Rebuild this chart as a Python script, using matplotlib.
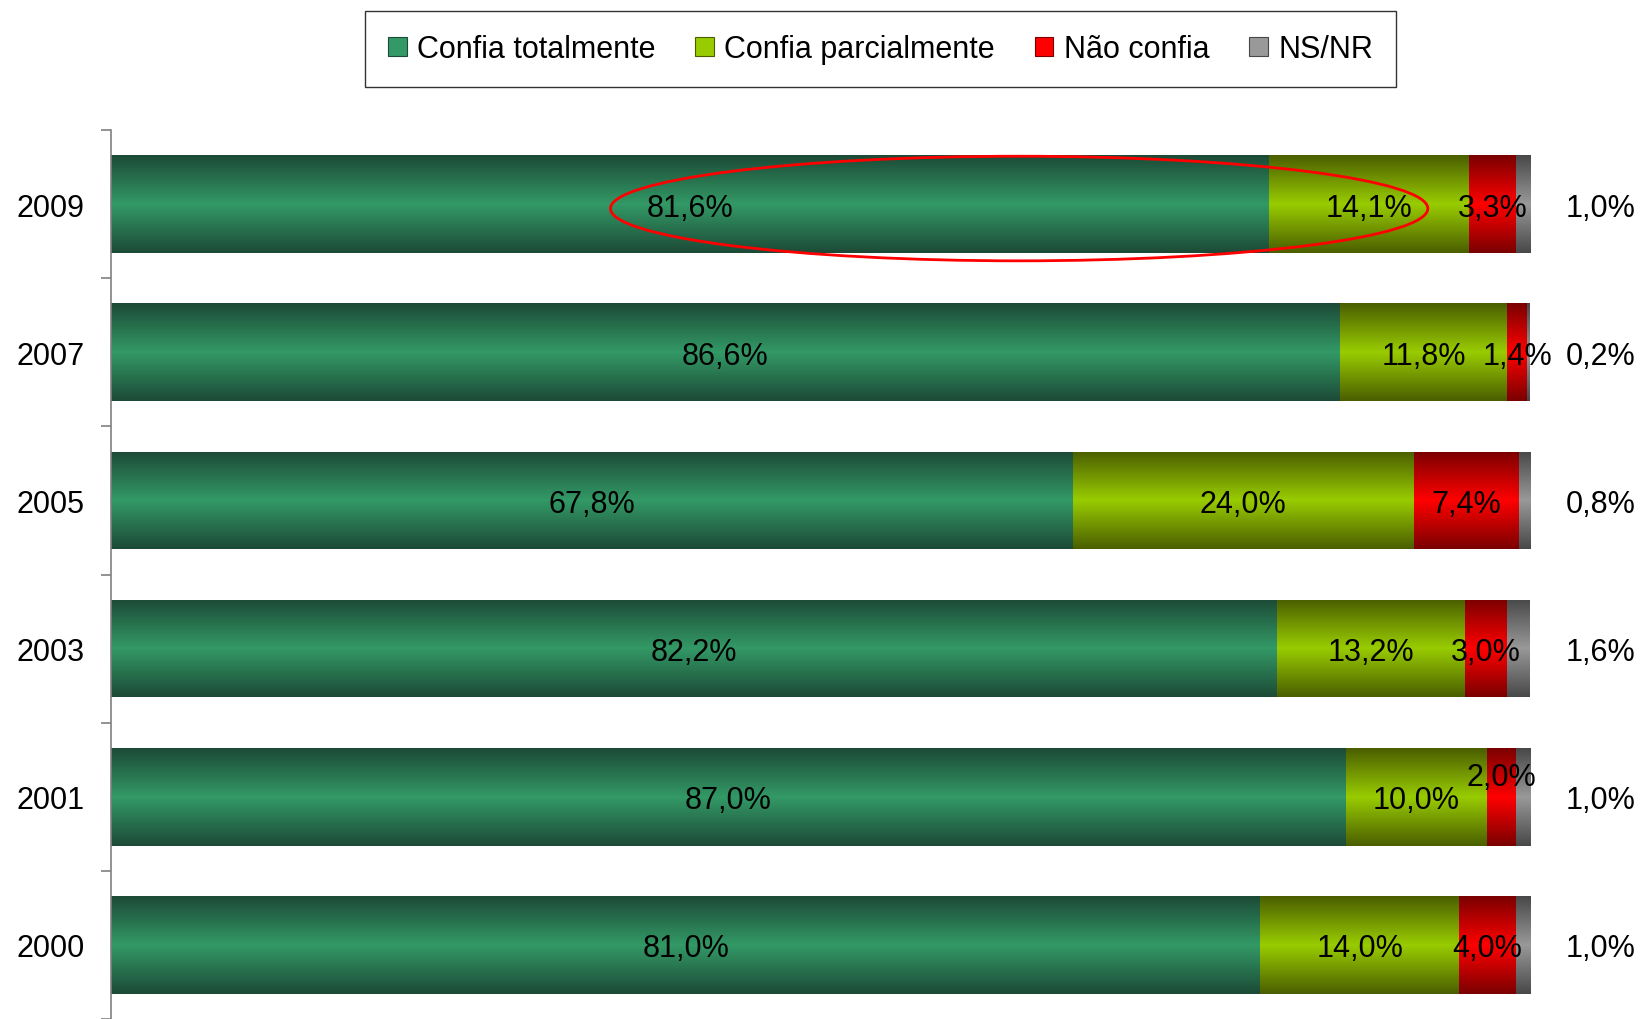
import matplotlib.pyplot as plt
import numpy as np
from matplotlib.colors import LinearSegmentedColormap
from matplotlib.patches import Ellipse, Patch

plt.rcParams['font.family'] = ['Liberation Sans', 'DejaVu Sans']

# Data
years = ["2009", "2007", "2005", "2003", "2001", "2000"]
series_names = ["Confia totalmente", "Confia parcialmente", "Não confia", "NS/NR"]
confia_total = [81.6, 86.6, 67.8, 82.2, 87.0, 81.0]
confia_parcial = [14.1, 11.8, 24.0, 13.2, 10.0, 14.0]
nao_confia = [3.3, 1.4, 7.4, 3.0, 2.0, 4.0]
ns_nr = [1.0, 0.2, 0.8, 1.6, 1.0, 1.0]

# (edge colour, centre colour) for the Excel-like gradient
series_colors = [
    ("#1c4a36", "#339966"),
    ("#4a5e00", "#99cc00"),
    ("#7a0000", "#ff0000"),
    ("#484848", "#999999"),
]

fs = 22
bar_h = 0.66


def fmt(v):
    return f"{v:.1f}".replace('.', ',') + '%'


fig = plt.figure(figsize=(16.43, 10.2), dpi=100)
fig.set_facecolor('white')
ax = fig.add_axes([111 / 1643, 0, (1530 - 111) / 1643, 1 - 131 / 1020])

y = np.arange(len(years))
left = np.zeros(len(years))
grad = 1 - np.abs(np.linspace(-1, 1, 256))
grad = grad.reshape(-1, 1)

all_series = [confia_total, confia_parcial, nao_confia, ns_nr]
for k, (vals, (dark, light)) in enumerate(zip(all_series, series_colors)):
    vals = np.array(vals)
    bars = ax.barh(y, vals, left=left, height=bar_h, color='none', edgecolor='none')
    cmap = LinearSegmentedColormap.from_list(f"g{k}", [dark, light])
    for rect in bars:
        x0, y0 = rect.get_x(), rect.get_y()
        w, h = rect.get_width(), rect.get_height()
        im = ax.imshow(grad, cmap=cmap, aspect='auto', vmin=0, vmax=1,
                       extent=(x0, x0 + w, y0, y0 + h), interpolation='bilinear')
        im.set_clip_path(rect)

    for i, v in enumerate(vals):
        if k == 3:
            ax.text(105, y[i], fmt(v), ha='center', va='center_baseline', fontsize=fs)
        else:
            dy = -0.155 if (k == 2 and years[i] == "2001") else 0
            ax.text(left[i] + v / 2, y[i] + dy, fmt(v), ha='center', va='center_baseline',
                    fontsize=fs)
    left = left + vals

# highlight around 2009
ax.add_patch(Ellipse((64.0, 0.03), width=57.6, height=0.706, fill=False,
                     edgecolor='red', linewidth=2, zorder=5))

ax.set_xlim(0, 100)
ax.set_ylim(len(years) - 0.5, -0.5)
ax.set_xticks([])
ax.set_yticks(y)
ax.set_yticklabels(years)
ax.set_yticks(np.arange(-0.5, len(years), 1), minor=True)
ax.tick_params(axis='y', which='major', length=0, pad=19, labelsize=fs)
ax.tick_params(axis='y', which='minor', length=7, color='#808080', width=1.2)

for spine in ['top', 'right', 'bottom']:
    ax.spines[spine].set_visible(False)
ax.spines['left'].set_color('#808080')
ax.spines['left'].set_linewidth(1.2)

handles = [Patch(facecolor=light, edgecolor=dark, linewidth=0.8) for dark, light in series_colors]
leg = fig.legend(handles, series_names, loc='center', bbox_to_anchor=(0.536, 0.951),
                 ncol=4, fontsize=fs, frameon=True, fancybox=False,
                 handlelength=0.6, handleheight=0.6, handletextpad=0.35,
                 columnspacing=1.3, borderpad=0.75)
leg.get_frame().set_edgecolor('black')
leg.get_frame().set_linewidth(1.0)

fig.savefig("out.png", dpi=100, facecolor='white')
